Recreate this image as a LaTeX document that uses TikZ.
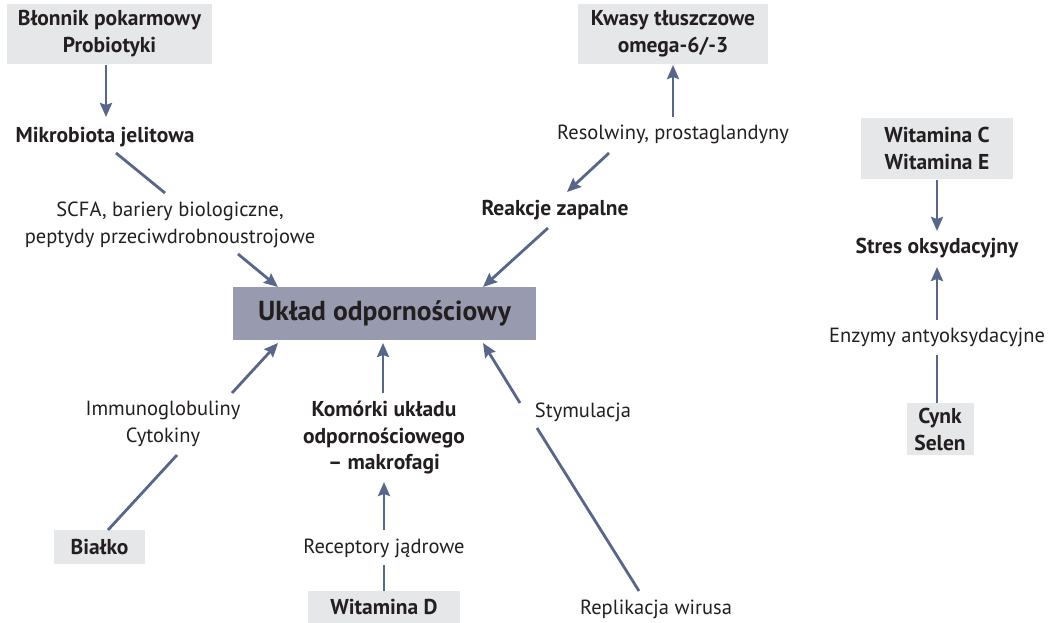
\documentclass[tikz,border=0pt]{standalone}
\usepackage{fontspec}
\setmainfont{PT Sans}
\usetikzlibrary{arrows.meta,calc}
\definecolor{arrc}{HTML}{58668A}
\definecolor{lightbox}{HTML}{E6E7E8}
\definecolor{mainbox}{HTML}{989BB0}
\definecolor{txt}{HTML}{231F20}
\begin{document}
\begin{tikzpicture}[x=1pt,y=-1pt,
  every node/.style={inner sep=0pt,outer sep=0pt,text=txt,align=center,font=\fontsize{20.5}{26.5}\selectfont},
  lbl/.style={},
  blbl/.style={font=\fontsize{21.5}{26.5}\selectfont\bfseries},
  gbox/.style={fill=lightbox,font=\fontsize{21.5}{27}\selectfont\bfseries},
  mbox/.style={fill=mainbox,font=\fontsize{27.5}{30}\selectfont\bfseries},
  arr/.style={draw=arrc,line width=2.8pt,-{Stealth[length=14pt,width=12pt,inset=2pt]}},
  ln/.style={draw=arrc,line width=2.8pt}]
\useasboundingbox (0,0) rectangle (1051,623);
% boxes
\node[gbox,minimum width=205pt,minimum height=60pt] (blon) at (109.5,34) {Błonnik pokarmowy\\Probiotyki};
\node[gbox,minimum width=190pt,minimum height=60pt] (kwasy) at (673,34) {Kwasy tłuszczowe\\omega-6/-3};
\node[gbox,minimum width=152pt,minimum height=61pt] (witce) at (937,148.5) {Witamina C\\Witamina E};
\node[gbox,minimum width=67pt,minimum height=52pt] (cynk) at (940,429) {Cynk\\Selen};
\node[gbox,minimum width=91pt,minimum height=34pt] (bialko) at (99.5,547) {Białko};
\node[gbox,minimum width=152pt,minimum height=32pt] (witd) at (384,607) {Witamina D};
\node[mbox,minimum width=303pt,minimum height=53pt] (main) at (384.5,313.5) {Układ odpornościowy};
% text nodes
\node[blbl] (mikro) at (105,137) {Mikrobiota jelitowa};
\node[lbl] (scfa) at (170,225) {SCFA, bariery biologiczne,\\peptydy przeciwdrobnoustrojowe};
\node[blbl] (reakcje) at (555,210) {Reakcje zapalne};
\node[lbl] (resol) at (673,134) {Resolwiny, prostaglandyny};
\node[blbl] (stres) at (937,248) {Stres oksydacyjny};
\node[lbl] (enzymy) at (937,337) {Enzymy antyoksydacyjne};
\node[lbl] (immuno) at (163,424) {Immunoglobuliny\\Cytokiny};
\node[blbl] (komorki) at (384,438) {Komórki układu\\odpornościowego\\– makrofagi};
\node[lbl] (recept) at (384,548) {Receptory jądrowe};
\node[lbl] (stym) at (583,412) {Stymulacja};
\node[lbl] (repl) at (656,609) {Replikacja wirusa};
% connectors
\draw[arr] ($(blon)+(-3.5,31)$) -- ($(mikro)+(1,-20)$);
\draw[ln] ($(mikro)+(11,16)$) -- ($(scfa)+(-5,-32)$);
\draw[arr] ($(scfa)+(68,29)$) -- ($(main)+(-106.5,-26.5)$);
\draw[arr] ($(resol)+(0,-17)$) -- ($(kwasy)+(0,31)$);
\draw[arr] ($(resol)+(-64,19)$) -- ($(reakcje)+(12,-18)$);
\draw[arr] ($(reakcje)+(-7,18)$) -- ($(main)+(98.5,-26.5)$);
\draw[arr] ($(witce)+(0,31)$) -- ($(stres)+(0,-17)$);
\draw[arr] ($(enzymy)+(0,-17)$) -- ($(stres)+(0,19)$);
\draw[ln] ($(cynk)+(-3,-26)$) -- ($(enzymy)+(0,18)$);
\draw[ln] ($(bialko)+(8.5,-17)$) -- ($(immuno)+(14,31)$);
\draw[arr] ($(immuno)+(69,-31)$) -- ($(main)+(-106.5,29.5)$);
\draw[arr] ($(komorki)+(-1,-45)$) -- ($(main)+(-1.5,29.5)$);
\draw[arr] ($(recept)+(0,-18)$) -- ($(komorki)+(0,44)$);
\draw[ln] ($(witd)+(0,-16)$) -- ($(recept)+(0,17)$);
\draw[arr] ($(stym)+(-63,-9)$) -- ($(main)+(98.5,29.5)$);
\draw[ln] ($(repl)+(-17,-18)$) -- ($(stym)+(-46,16)$);
\end{tikzpicture}
\end{document}
